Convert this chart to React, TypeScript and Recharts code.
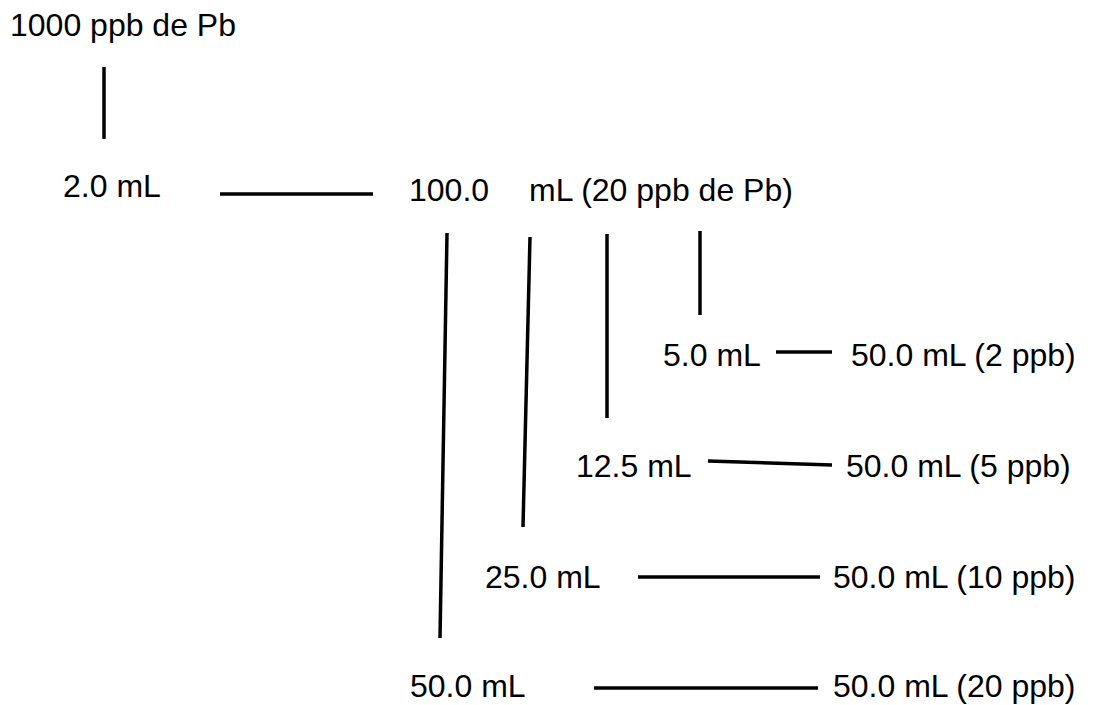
import { ScatterChart, Scatter, XAxis, YAxis, ReferenceLine } from "recharts";

// dilution scheme, drawn in a 1097 x 705 coordinate space (y grows downward)
const labels = [
  { x: 10, y: 36, text: "1000 ppb de Pb" },
  { x: 63, y: 197, text: "2.0 mL" },
  { x: 409, y: 201, text: "100.0" },
  { x: 529, y: 201, text: "mL (20 ppb de Pb)" },
  { x: 663, y: 366, text: "5.0 mL" },
  { x: 851, y: 366, text: "50.0 mL (2 ppb)" },
  { x: 576, y: 477, text: "12.5 mL" },
  { x: 846, y: 477, text: "50.0 mL (5 ppb)" },
  { x: 485, y: 588, text: "25.0 mL" },
  { x: 833, y: 588, text: "50.0 mL (10 ppb)" },
  { x: 410, y: 697, text: "50.0 mL" },
  { x: 833, y: 697, text: "50.0 mL (20 ppb)" },
];

const segments = [
  [{ x: 104, y: 67 }, { x: 104, y: 139 }],
  [{ x: 220, y: 194 }, { x: 373, y: 194 }],
  [{ x: 447, y: 233 }, { x: 440, y: 638 }],
  [{ x: 530, y: 237 }, { x: 523, y: 527 }],
  [{ x: 607, y: 234 }, { x: 607, y: 418 }],
  [{ x: 700, y: 231 }, { x: 700, y: 315 }],
  [{ x: 776, y: 352 }, { x: 832, y: 352 }],
  [{ x: 708, y: 461 }, { x: 832, y: 465 }],
  [{ x: 638, y: 577 }, { x: 820, y: 577 }],
  [{ x: 594, y: 688 }, { x: 818, y: 688 }],
];

const LabelText = (props: any) => {
  const { cx, cy, payload } = props;
  return (
    <text x={cx} y={cy} fill="#000" fontSize={32} fontFamily="Liberation Sans, Arial, sans-serif" textAnchor="start">
      {payload.text}
    </text>
  );
};

export default function App() {
  return (
    <div style={{ position: "absolute", left: 0, top: 0, background: "#fff" }}>
      <ScatterChart width={1097} height={705} margin={{ top: 0, right: 0, bottom: 0, left: 0 }}>
        <XAxis type="number" dataKey="x" domain={[0, 1097]} hide />
        <YAxis type="number" dataKey="y" domain={[0, 705]} reversed hide />
        {segments.map((s, i) => (
          <ReferenceLine key={i} segment={s} stroke="#000" strokeWidth={3.5} ifOverflow="visible" />
        ))}
        <Scatter data={labels} shape={<LabelText />} isAnimationActive={false} />
      </ScatterChart>
    </div>
  );
}
